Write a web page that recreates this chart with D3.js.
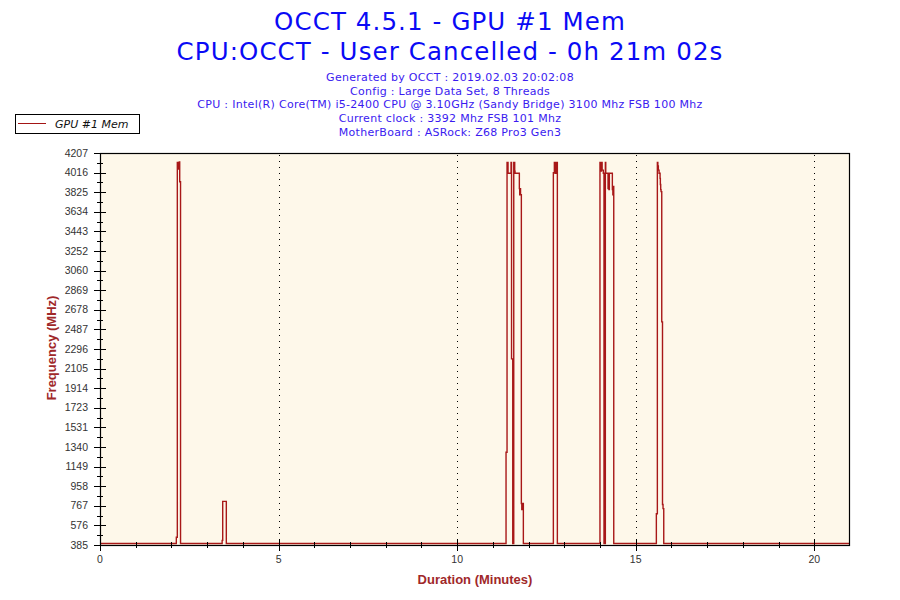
<!DOCTYPE html>
<html>
<head>
<meta charset="utf-8">
<script src="https://cdn.jsdelivr.net/npm/d3@7/dist/d3.min.js"></script>
<style>
  html, body { margin: 0; padding: 0; background: #fff; }
  svg { display: block; }
</style>
</head>
<body>
<svg id="chart" width="900" height="600"></svg>
<script>
// ---- data ----
const titleLines = ["OCCT 4.5.1 - GPU #1 Mem", "CPU:OCCT - User Cancelled - 0h 21m 02s"];
const infoLines = [
  "Generated by OCCT : 2019.02.03 20:02:08",
  "Config : Large Data Set, 8 Threads",
  "CPU : Intel(R) Core(TM) i5-2400 CPU @ 3.10GHz (Sandy Bridge) 3100 Mhz FSB 100 Mhz",
  "Current clock : 3392 Mhz FSB 101 Mhz",
  "MotherBoard : ASRock: Z68 Pro3 Gen3"
];
const seriesName = "GPU #1 Mem";
const yTickLabels = ["385","576","767","958","1149","1340","1531","1723","1914","2105","2296","2487","2678","2869","3060","3252","3443","3634","3825","4016","4207"];
const xTickValues = [0, 5, 10, 15, 20];
const yMin = 385, yMax = 4207, xMax = 21;

// step breakpoints (minutes, MHz)
const times = [
  0, 2.137, 2.165, 2.180, 2.186, 2.192, 2.200, 2.221, 2.232, 2.255,
  3.420, 3.436, 3.537,
  11.369, 11.397, 11.425, 11.509, 11.523, 11.557, 11.585, 11.595, 11.603, 11.612, 11.621,
  11.742, 11.752, 11.762, 11.775, 11.798, 11.810, 11.822, 11.854,
  12.694, 12.722, 12.740, 12.770, 12.780, 12.790, 12.806,
  13.999, 14.020, 14.040, 14.060, 14.093, 14.112, 14.150, 14.161, 14.225, 14.240, 14.250, 14.262,
  14.346, 14.360, 14.370, 14.385,
  15.578, 15.606, 15.620, 15.634, 15.654, 15.682, 15.690, 15.700, 15.710, 15.729, 15.750, 15.765, 15.785,
  21
];
const freqs = [
  400, 460, 4116, 4060, 4116, 4050, 4116, 4120, 3927, 400,
  430, 810, 400,
  1290, 4116, 4010, 4116, 2200, 400, 4116, 4030, 4116, 4030, 4010,
  3860, 3800, 3860, 3800, 790, 730, 790, 400,
  4016, 4116, 4010, 4116, 4020, 4116, 400,
  4116, 4030, 4116, 4040, 4010, 400, 4116, 4010, 3860, 4010, 3850, 4010,
  3850, 3800, 3880, 400,
  690, 4116, 4080, 4040, 4010, 3960, 3900, 3850, 3830, 2560, 780, 740, 400,
  400
];

// ---- layout ----
const svg = d3.select("#chart");
const L = 100, R = 850, T = 153, B = 545;
const x = d3.scaleLinear().domain([0, xMax]).range([L, R]);
const y = d3.scaleLinear().domain([yMin, yMax]).range([B, T]);

// titles
svg.selectAll("text.title").data(titleLines).join("text")
  .attr("class", "title")
  .attr("x", 450).attr("y", (d, i) => 30 + i * 30)
  .attr("text-anchor", "middle")
  .attr("font-family", "DejaVu Sans").attr("font-size", 24.5)
  .attr("letter-spacing", 1.1)
  .attr("fill", "#0A0AF5")
  .text(d => d);

svg.selectAll("text.info").data(infoLines).join("text")
  .attr("class", "info")
  .attr("x", 450).attr("y", (d, i) => 81 + i * 13.7)
  .attr("text-anchor", "middle")
  .attr("font-family", "DejaVu Sans").attr("font-size", 11)
  .attr("letter-spacing", 0.3)
  .attr("fill", "#3A1AF0")
  .text(d => d);

// legend
const lg = svg.append("g");
lg.append("rect").attr("x", 15.5).attr("y", 114.5).attr("width", 124).attr("height", 19)
  .attr("fill", "#fff").attr("stroke", "#000").attr("stroke-width", 1);
lg.append("line").attr("x1", 18).attr("x2", 46).attr("y1", 123.5).attr("y2", 123.5)
  .attr("stroke", "#A31515").attr("stroke-width", 1);
lg.append("text").attr("x", 55).attr("y", 128).attr("font-family", "DejaVu Sans")
  .attr("font-style", "italic").attr("font-size", 11).attr("fill", "#111").text(seriesName);

// plot background
svg.append("rect").attr("x", L).attr("y", T).attr("width", R - L).attr("height", B - T)
  .attr("fill", "#FEF8EA");

// dotted grid lines
svg.selectAll("line.grid").data(xTickValues.filter(v => v > 0)).join("line")
  .attr("class", "grid")
  .attr("x1", d => Math.round(x(d)) + 0.5).attr("x2", d => Math.round(x(d)) + 0.5)
  .attr("y1", T + 2).attr("y2", B)
  .attr("stroke", "#000").attr("stroke-width", 1).attr("stroke-dasharray", "1,5");

// series
const pts = times.map((t, i) => [t, freqs[i]]);
const line = d3.line().x(d => x(d[0])).y(d => y(d[1])).curve(d3.curveStepAfter);
svg.append("path").datum(pts).attr("d", line)
  .attr("fill", "none").attr("stroke", "#A81818").attr("stroke-width", 1.4);

// frame
svg.append("rect").attr("x", L + 0.5).attr("y", T + 0.5).attr("width", R - L - 1).attr("height", B - T)
  .attr("fill", "none").attr("stroke", "#000").attr("stroke-width", 1.2);

// y ticks
const yStep = (yMax - yMin) / (yTickLabels.length - 1);
const yMajor = yTickLabels.map((s, i) => yMin + i * yStep);
const yMinor = yMajor.slice(0, -1).map(v => v + yStep / 2);
svg.selectAll("line.ymaj").data(yMajor).join("line")
  .attr("x1", L - 6).attr("x2", L + 6)
  .attr("y1", d => Math.round(y(d)) + 0.5).attr("y2", d => Math.round(y(d)) + 0.5)
  .attr("stroke", "#000");
svg.selectAll("line.ymin").data(yMinor).join("line")
  .attr("x1", L - 3).attr("x2", L + 3)
  .attr("y1", d => Math.round(y(d)) + 0.5).attr("y2", d => Math.round(y(d)) + 0.5)
  .attr("stroke", "#000");
svg.selectAll("text.ylab").data(yTickLabels).join("text")
  .attr("x", 88).attr("y", (d, i) => y(yMajor[i]) + 3.5)
  .attr("text-anchor", "end")
  .attr("font-family", "Liberation Sans").attr("font-size", 10.5).attr("fill", "#333")
  .text(d => d);

// x ticks
const xMinor = d3.range(1, 21).filter(v => v % 5 !== 0);
svg.selectAll("line.xmaj").data(xTickValues).join("line")
  .attr("x1", d => Math.round(x(d)) + 0.5).attr("x2", d => Math.round(x(d)) + 0.5)
  .attr("y1", d => d === 0 ? B : B - 6).attr("y2", B + 6)
  .attr("stroke", "#000");
svg.selectAll("line.xmin").data(xMinor).join("line")
  .attr("x1", d => Math.round(x(d)) + 0.5).attr("x2", d => Math.round(x(d)) + 0.5)
  .attr("y1", B - 3).attr("y2", B + 3)
  .attr("stroke", "#000");
svg.selectAll("text.xlab").data(xTickValues).join("text")
  .attr("x", d => x(d)).attr("y", 563)
  .attr("text-anchor", "middle")
  .attr("font-family", "Liberation Sans").attr("font-size", 10.5).attr("fill", "#333")
  .text(d => d);

// axis titles
svg.append("text").attr("x", 475).attr("y", 584).attr("text-anchor", "middle")
  .attr("font-family", "Liberation Sans").attr("font-weight", "bold").attr("font-size", 13)
  .attr("fill", "#A0282A").text("Duration (Minutes)");
svg.append("text").attr("transform", "translate(56,348) rotate(-90)").attr("text-anchor", "middle")
  .attr("font-family", "Liberation Sans").attr("font-weight", "bold").attr("font-size", 13)
  .attr("fill", "#A0282A").text("Frequency (MHz)");
</script>
</body>
</html>
